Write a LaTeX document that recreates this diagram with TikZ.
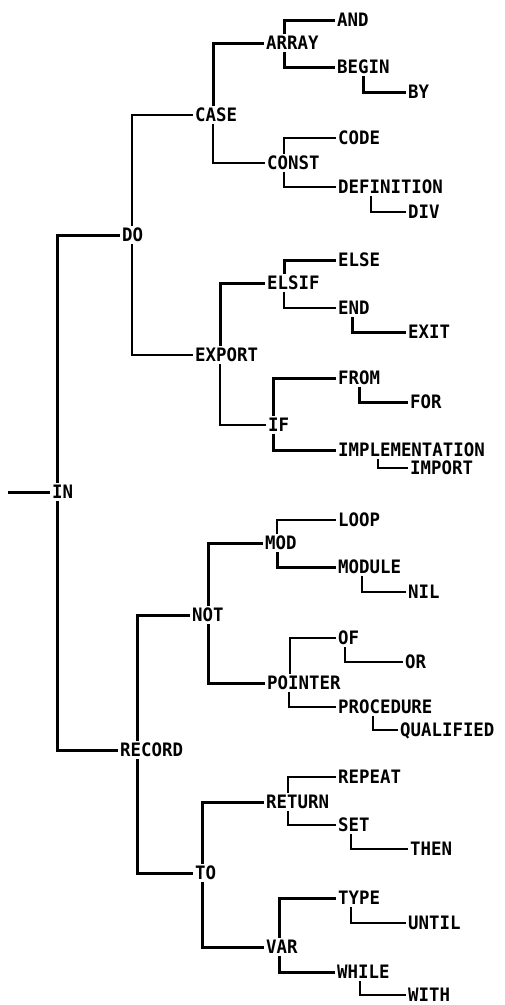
\documentclass[tikz,border=0pt]{standalone}
\usepackage{fontspec}
\setmonofont{DejaVu Sans Mono}[FakeStretch=0.94]
\begin{document}
\begin{tikzpicture}[x=1pt,y=-1pt,
  kw/.style={anchor=west, inner sep=2pt, font=\ttfamily\bfseries\fontsize{18.5}{19}\selectfont, text height=13.5pt, text depth=0pt},
  thk/.style={line width=3pt},
  thn/.style={line width=1.8pt}]
\useasboundingbox (0,0) rectangle (505,1005);
% nodes
\node[kw] (IN) at (50,492) {IN};
\node[kw] (DO) at (120,235) {DO};
\node[kw] (CASE) at (193,115) {CASE};
\node[kw] (ARRAY) at (264,43) {ARRAY};
\node[kw] (AND) at (335,20) {AND};
\node[kw] (BEGIN) at (335,67) {BEGIN};
\node[kw] (BY) at (406,92) {BY};
\node[kw] (CONST) at (265,163) {CONST};
\node[kw] (CODE) at (336,138) {CODE};
\node[kw] (DEFINITION) at (336,187) {DEFINITION};
\node[kw] (DIV) at (406,212) {DIV};
\node[kw] (EXPORT) at (193,355) {EXPORT};
\node[kw] (ELSIF) at (265,283) {ELSIF};
\node[kw] (ELSE) at (336,260) {ELSE};
\node[kw] (END) at (336,308) {END};
\node[kw] (EXIT) at (406,332) {EXIT};
\node[kw] (IF) at (266,425) {IF};
\node[kw] (FROM) at (336,378) {FROM};
\node[kw] (FOR) at (408,402) {FOR};
\node[kw] (IMPL) at (336,450) {IMPLEMENTATION};
\node[kw] (IMPORT) at (408,468) {IMPORT};
\node[kw] (RECORD) at (118,750) {RECORD};
\node[kw] (NOT) at (190,615) {NOT};
\node[kw] (MOD) at (263,543) {MOD};
\node[kw] (LOOP) at (336,520) {LOOP};
\node[kw] (MODULE) at (336,567) {MODULE};
\node[kw] (NIL) at (406,592) {NIL};
\node[kw] (POINTER) at (265,683) {POINTER};
\node[kw] (OF) at (336,638) {OF};
\node[kw] (OR) at (403,662) {OR};
\node[kw] (PROCEDURE) at (336,707) {PROCEDURE};
\node[kw] (QUALIFIED) at (398,730) {QUALIFIED};
\node[kw] (TO) at (193,873) {TO};
\node[kw] (RETURN) at (264,802) {RETURN};
\node[kw] (REPEAT) at (336,777) {REPEAT};
\node[kw] (SET) at (336,825) {SET};
\node[kw] (THEN) at (408,849) {THEN};
\node[kw] (VAR) at (264,947) {VAR};
\node[kw] (TYPE) at (336,898) {TYPE};
\node[kw] (UNTIL) at (406,923) {UNTIL};
\node[kw] (WHILE) at (335,972) {WHILE};
\node[kw] (WITH) at (406,995) {WITH};
% root
\coordinate (root) at (8,492);
\draw[thk] (root) -- (IN.west);
% IN
\draw[thk] (IN.north -| 57,0) |- (DO.west);
\draw[thk] (IN.south -| 57,0) |- (RECORD.west);
% DO
\draw[thn] (DO.north -| 132,0) |- (CASE.west);
\draw[thn] (DO.south -| 132,0) |- (EXPORT.west);
% CASE
\draw[thk] (CASE.north -| 213,0) |- (ARRAY.west);
\draw[thn] (CASE.south -| 213,0) |- (CONST.west);
% ARRAY
\draw[thk] (ARRAY.north -| 284,0) |- (AND.west);
\draw[thk] (ARRAY.south -| 284,0) |- (BEGIN.west);
\draw[thk] (BEGIN.south -| 363,0) |- (BY.west);
% CONST
\draw[thn] (CONST.north -| 284,0) |- (CODE.west);
\draw[thn] (CONST.south -| 284,0) |- (DEFINITION.west);
\draw[thn] (DEFINITION.south -| 371,0) |- (DIV.west);
% EXPORT
\draw[thk] (EXPORT.north -| 220,0) |- (ELSIF.west);
\draw[thn] (EXPORT.south -| 220,0) |- (IF.west);
% ELSIF
\draw[thk] (ELSIF.north -| 284,0) |- (ELSE.west);
\draw[thn] (ELSIF.south -| 284,0) |- (END.west);
\draw[thk] (END.south -| 352,0) |- (EXIT.west);
% IF
\draw[thk] (IF.north -| 273,0) |- (FROM.west);
\draw[thk] (IF.south -| 273,0) |- (IMPL.west);
\draw[thk] (FROM.south -| 359,0) |- (FOR.west);
\draw[thn] (IMPL.south -| 378,0) |- (IMPORT.west);
% RECORD
\draw[thk] (RECORD.north -| 137,0) |- (NOT.west);
\draw[thk] (RECORD.south -| 137,0) |- (TO.west);
% NOT
\draw[thk] (NOT.north -| 208,0) |- (MOD.west);
\draw[thk] (NOT.south -| 208,0) |- (POINTER.west);
% MOD
\draw[thn] (MOD.north -| 277,0) |- (LOOP.west);
\draw[thk] (MOD.south -| 277,0) |- (MODULE.west);
\draw[thn] (MODULE.south -| 362,0) |- (NIL.west);
% POINTER
\draw[thn] (POINTER.north -| 290,0) |- (OF.west);
\draw[thn] (POINTER.south -| 289,0) |- (PROCEDURE.west);
\draw[thn] (OF.south -| 345,0) |- (OR.west);
\draw[thn] (PROCEDURE.south -| 373,0) |- (QUALIFIED.west);
% TO
\draw[thk] (TO.north -| 202,0) |- (RETURN.west);
\draw[thk] (TO.south -| 202,0) |- (VAR.west);
% RETURN
\draw[thn] (RETURN.north -| 288,0) |- (REPEAT.west);
\draw[thn] (RETURN.south -| 288,0) |- (SET.west);
\draw[thn] (SET.south -| 351,0) |- (THEN.west);
% VAR
\draw[thk] (VAR.north -| 279,0) |- (TYPE.west);
\draw[thk] (VAR.south -| 279,0) |- (WHILE.west);
\draw[thn] (TYPE.south -| 351,0) |- (UNTIL.west);
\draw[thn] (WHILE.south -| 360,0) |- (WITH.west);
\end{tikzpicture}
\end{document}
